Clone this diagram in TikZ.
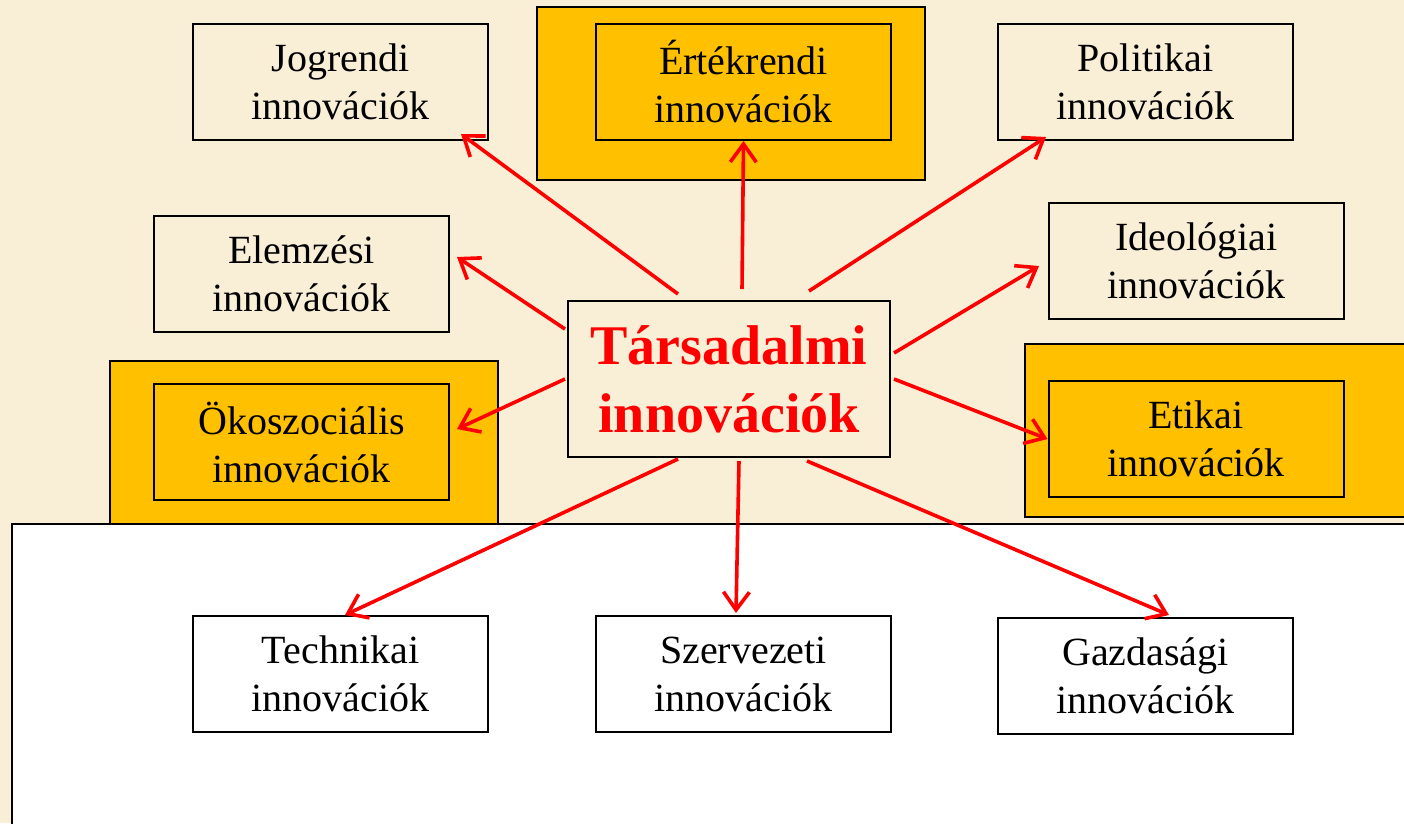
\documentclass[tikz,border=0pt]{standalone}
\usepackage{fontspec}
\setmainfont{Liberation Serif}
\usetikzlibrary{arrows.meta,calc}
\definecolor{parch}{RGB}{249,239,214}
\definecolor{gold}{RGB}{255,192,0}
\definecolor{arrred}{RGB}{255,0,0}
\tikzset{
  box/.style={draw=black, line width=2pt, minimum width=295pt, minimum height=116pt,
    inner sep=0pt, align=center, font=\fontsize{40}{48}\selectfont},
  goldbox/.style={box, fill=gold},
  outerbox/.style={draw=black, line width=2pt, fill=gold, inner sep=0pt},
  conn/.style={draw=arrred, line width=3.6pt, -{Straight Barb[length=18pt,width=26pt,line width=3.6pt]}},
}
\begin{document}
\begin{tikzpicture}[x=1pt,y=-1pt]
\useasboundingbox (0,0) rectangle (1404,823);
\clip (0,0) rectangle (1404,823);
\fill[parch] (0,0) rectangle (1404,823);
% outer gold frames
\node[outerbox, minimum width=388pt, minimum height=173pt] (ertO) at (731,93.5) {};
\node[outerbox, minimum width=388pt, minimum height=180pt] (okoO) at (304,451) {};
\node[outerbox, minimum width=400pt, minimum height=173pt] (etiO) at (1225,430.5) {};
% white panel
\node[draw=black, line width=2pt, fill=white, minimum width=1420pt, minimum height=330pt, inner sep=0pt] (panel) at (722,689) {};
% boxes
\node[box] (jog) at (340.5,82) {Jogrendi\\innovációk};
\node[goldbox] (ert) at (743.5,82) {Értékrendi\\innovációk};
\node[box] (pol) at (1145.5,82) {Politikai\\innovációk};
\node[box] (elem) at (301.5,274) {Elemzési\\innovációk};
\node[box] (ideo) at (1196.5,261) {Ideológiai\\innovációk};
\node[goldbox] (oko) at (301.5,442) {Ökoszociális\\innovációk};
\node[goldbox] (eti) at (1196,439) {Etikai\\innovációk};
\node[box] (tech) at (340.5,674) {Technikai\\innovációk};
\node[box] (szer) at (743.5,674) {Szervezeti\\innovációk};
\node[box] (gazd) at (1145.5,676) {Gazdasági\\innovációk};
\node[draw=black, line width=2pt, minimum width=322pt, minimum height=156pt, inner sep=0pt,
  align=center, text=arrred, font=\fontsize{56}{68}\selectfont\bfseries] (c) at (729,379) {Társadalmi\\innovációk};
% connectors
\draw[conn] ($(c.north west)+(111,-6)$) -- ($(jog.south east)+(-28,-7)$);
\draw[conn] ($(c.north west)+(175,-11)$) -- (ert.south);
\draw[conn] ($(c.north west)+(242,-9)$) -- ($(pol.south west)+(49,-4)$);
\draw[conn] ($(c.north west)+(-2,29)$) -- ($(elem.south east)+(7,-76)$);
\draw[conn] ($(c.north east)+(3,53)$) -- ($(ideo.south west)+(-9,-54)$);
\draw[conn] ($(c.north west)+(-2,79)$) -- ($(oko.north east)+(7,46)$);
\draw[conn] ($(c.north east)+(3,79)$) -- (eti.west);
\draw[conn] ($(c.south west)+(111,1)$) -- ($(tech.north west)+(153,0)$);
\draw[conn] ($(c.south west)+(172,3)$) -- ($(szer.north west)+(141,-2)$);
\draw[conn] ($(c.south west)+(240,3)$) -- ($(gazd.north west)+(172,-2)$);
\end{tikzpicture}
\end{document}
